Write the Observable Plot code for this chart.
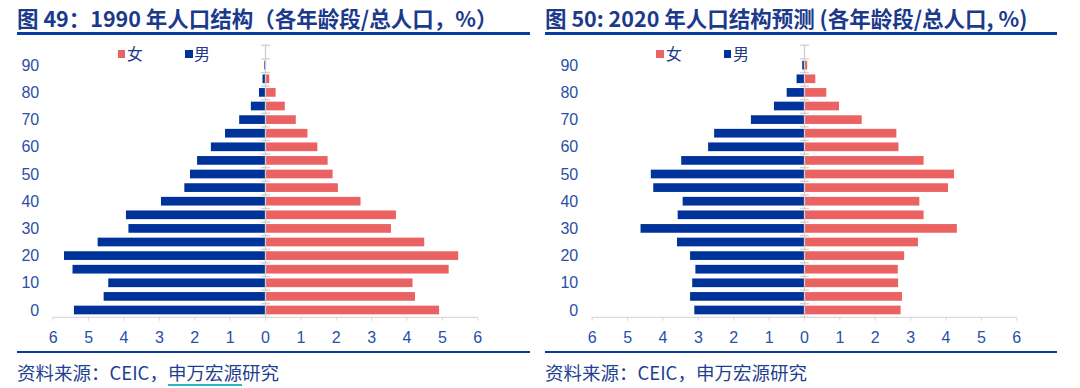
<!DOCTYPE html>
<html><head><meta charset="utf-8">
<script src="https://cdn.jsdelivr.net/npm/d3@7"></script>
<script src="https://cdn.jsdelivr.net/npm/@observablehq/plot@0.6"></script>
<style>
body{margin:0;width:1080px;height:388px;background:#fff;position:relative;overflow:hidden;font-family:"Noto Sans CJK SC","Noto Sans",sans-serif;}
.title{position:absolute;top:3px;font-weight:bold;font-size:21.5px;line-height:30px;color:#1b3a8c;white-space:nowrap;}
.rule{position:absolute;height:2.6px;background:#0b3d9e;}
.caption{position:absolute;top:359px;font-size:18.5px;line-height:26px;color:#1f3f8f;white-space:nowrap;}
.lg{position:absolute;top:42px;font-size:16px;line-height:22px;color:#1f3a8a;white-space:nowrap;}
.sw{position:absolute;width:7.5px;height:7.5px;top:50px;}
.plot{position:absolute;top:40px;}
</style></head><body>
<div class="title" style="left:17px">图 49：1990 年人口结构（各年龄段/总人口，%）</div>
<div class="rule" style="left:17px;width:513px;top:32px"></div>
<div class="title" style="left:545px">图 50: 2020 年人口结构预测 (各年龄段/总人口, %)</div>
<div class="rule" style="left:545px;width:512px;top:32px"></div>

<div class="sw" style="left:117.5px;background:#eb6262"></div><div class="lg" style="left:127px">女</div>
<div class="sw" style="left:185px;background:#003399"></div><div class="lg" style="left:194px">男</div>
<div class="sw" style="left:656px;background:#eb6262"></div><div class="lg" style="left:666px">女</div>
<div class="sw" style="left:723.5px;background:#003399"></div><div class="lg" style="left:733px">男</div>

<div class="plot" id="p1" style="left:0px"></div>
<div class="plot" id="p2" style="left:539px"></div>

<div class="rule" style="left:17px;width:513px;top:350.5px"></div>
<div class="rule" style="left:545px;width:512px;top:350.5px"></div>
<div class="caption" style="left:17px">资料来源：CEIC，<span style="text-decoration:underline;text-decoration-color:#29b4c9;text-decoration-thickness:1.5px;text-underline-offset:4px">申万宏源</span>研究</div>
<div class="caption" style="left:545px">资料来源：CEIC，申万宏源研究</div>

<script>
// age groups (start of each 5-year band)
const ages = [0,5,10,15,20,25,30,35,40,45,50,55,60,65,70,75,80,85,90];
const yTicks = [0,10,20,30,40,50,60,70,80,90];
const xTicks = [-6,-5,-4,-3,-2,-1,0,1,2,3,4,5,6];
// 1990 (% of total population)
const male1990   = [5.40,4.56,4.43,5.44,5.68,4.73,3.86,3.93,2.94,2.28,2.12,1.92,1.53,1.13,0.73,0.40,0.17,0.07,0.02];
const female1990 = [4.92,4.24,4.17,5.19,5.46,4.50,3.56,3.70,2.70,2.06,1.91,1.77,1.48,1.20,0.87,0.56,0.30,0.12,0.03];
// 2020 projection
const male2020   = [3.10,3.22,3.16,3.07,3.22,3.59,4.62,3.57,3.43,4.26,4.33,3.47,2.71,2.54,1.50,0.85,0.49,0.21,0.05];
const female2020 = [2.73,2.77,2.66,2.65,2.83,3.22,4.32,3.38,3.26,4.07,4.24,3.38,2.67,2.61,1.63,0.99,0.63,0.32,0.09];

const BLUE = "#003399", RED = "#eb6262";
const half = 2.5;
const yDomain = [ages[0]-half, 97.5];
const bounds = [ages[0]-half, ...ages.map(a => a + half), 97.5];

function pyramid(male, female) {
  const rows = ages.flatMap((a, i) => [
    {age: a, sex: "男", v: -male[i]},
    {age: a, sex: "女", v: female[i]}
  ]);
  return Plot.plot({
    width: 540, height: 310,
    marginLeft: 52.7, marginRight: 62.7, marginTop: 4.8, marginBottom: 33.2,
    x: {domain: [-6, 6]},
    y: {domain: yDomain},
    style: {fontFamily: "'Liberation Sans', Arial, sans-serif", fontSize: "16px", color: "#2a4fa6", background: "transparent", overflow: "visible"},
    marks: [
      Plot.rectX(rows, {
        x1: d => 0, x2: "v",
        y1: d => d.age - half, y2: d => d.age + half,
        insetTop: 2.45, insetBottom: 2.45,
        fill: d => d.sex === "男" ? BLUE : RED
      }),
      Plot.ruleX([0], {y1: yDomain[0], y2: yDomain[1], stroke: "#cfcfcf", strokeWidth: 1.3}),
      Plot.ruleY(bounds, {x1: -0.11, x2: 0.14, stroke: "#cfcfcf", strokeWidth: 1.3}),
      Plot.ruleY([yDomain[0]], {x1: -6, x2: 6, stroke: "#d9d9d9", strokeWidth: 1.3}),
      Plot.axisX({ticks: xTicks, tickFormat: d => Math.abs(d), tickSize: 4, tickPadding: 10.5, stroke: "#d9d9d9", label: null}),
      Plot.axisY({ticks: yTicks, tickSize: 0, tickPadding: 14, label: null})
    ]
  });
}
document.getElementById("p1").append(pyramid(male1990, female1990));
document.getElementById("p2").append(pyramid(male2020, female2020));
</script>
</body></html>
